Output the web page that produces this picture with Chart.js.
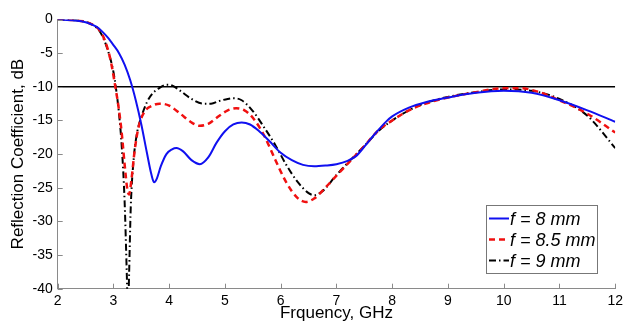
<!DOCTYPE html>
<html>
<head>
<meta charset="utf-8">
<script src="https://cdn.jsdelivr.net/npm/chart.js@4.4.1/dist/chart.umd.min.js"></script>
<style>
  html, body { margin: 0; padding: 0; background: #fff; }
  #wrap { width: 627px; height: 324px; }
</style>
</head>
<body>
<div id="wrap"><canvas id="chart" width="627" height="324"></canvas></div>
<script>
//===========================================================================================
// ~~ DATA ~~

var labels8 = ["f = 8 mm", "f = 8.5 mm", "f = 9 mm"];

var freq8 = [2.0, 2.3, 2.5, 2.6, 2.7, 2.8, 2.9, 3.0, 3.1, 3.2, 3.3, 3.4, 3.5, 3.6, 3.68, 3.73, 3.78, 3.85, 3.95, 4.05, 4.13, 4.25, 4.4, 4.55, 4.7, 4.85, 5.0, 5.15, 5.3, 5.45, 5.6, 5.8, 6.0, 6.2, 6.4, 6.6, 6.8, 7.0, 7.2, 7.35, 7.5, 7.7, 7.9, 8.0, 8.3, 8.6, 9.0, 9.5, 10.0, 10.5, 11.0, 11.5, 12.0];
var s11_8 = [0, -0.15, -0.4, -0.7, -1.1, -1.8, -2.7, -3.8, -5.0, -6.7, -9.0, -12.0, -15.6, -19.8, -23.0, -24.2, -23.6, -21.8, -20.0, -19.3, -19.1, -19.6, -20.9, -21.5, -20.5, -18.3, -16.6, -15.6, -15.3, -15.6, -16.5, -18.1, -19.8, -20.9, -21.6, -21.8, -21.7, -21.5, -21.0, -20.3, -18.9, -16.9, -15.1, -14.4, -13.1, -12.3, -11.6, -10.9, -10.6, -10.9, -12.0, -13.5, -15.2];

var freq85 = [2.0, 2.3, 2.5, 2.65, 2.75, 2.85, 2.95, 3.03, 3.1, 3.15, 3.2, 3.25, 3.28, 3.32, 3.38, 3.45, 3.55, 3.7, 3.83, 4.0, 4.2, 4.4, 4.55, 4.7, 4.9, 5.05, 5.2, 5.35, 5.5, 5.7, 5.9, 6.1, 6.3, 6.45, 6.6, 6.8, 7.0, 7.25, 7.5, 7.75, 8.0, 8.3, 8.6, 9.0, 9.5, 10.0, 10.3, 10.6, 11.0, 11.5, 12.0];
var s11_85 = [0, -0.1, -0.35, -0.9, -1.6, -3.2, -6.1, -9.8, -13.5, -17.0, -21.5, -25.3, -26.0, -24.0, -19.5, -16.0, -13.8, -12.8, -12.5, -12.8, -14.0, -15.3, -15.8, -15.5, -14.3, -13.5, -13.2, -13.5, -14.6, -17.2, -20.8, -24.2, -26.5, -27.1, -26.6, -25.0, -23.2, -21.0, -18.8, -16.5, -15.0, -13.5, -12.5, -11.6, -10.8, -10.2, -10.2, -10.7, -12.0, -14.0, -16.8];

var freq9 = [2.0, 2.3, 2.5, 2.65, 2.75, 2.85, 2.95, 3.0, 3.04, 3.1, 3.15, 3.2, 3.24, 3.26, 3.28, 3.31, 3.36, 3.42, 3.5, 3.6, 3.7, 3.8, 3.95, 4.05, 4.2, 4.4, 4.6, 4.75, 4.9, 5.05, 5.15, 5.3, 5.5, 5.7, 5.9, 6.1, 6.3, 6.5, 6.6, 6.75, 7.0, 7.25, 7.5, 7.75, 8.0, 8.3, 8.6, 9.0, 9.5, 10.0, 10.5, 11.0, 11.5, 12.0];
var s11_9 = [0, -0.1, -0.35, -0.9, -1.7, -3.4, -6.0, -7.8, -9.9, -14.0, -19.0, -27.0, -38.0, -44.0, -38.0, -28.0, -21.0, -17.0, -14.5, -12.3, -11.0, -10.3, -9.7, -9.8, -10.6, -11.8, -12.5, -12.5, -12.1, -11.8, -11.7, -12.0, -13.6, -16.0, -18.6, -21.6, -24.1, -25.8, -26.1, -25.5, -23.1, -20.9, -18.8, -16.6, -15.0, -13.5, -12.4, -11.5, -10.8, -10.4, -10.6, -11.8, -14.3, -19.1];

var refFreq = [2, 12];
var refLevel = [-10, -10];

var xTicks = [2, 3, 4, 5, 6, 7, 8, 9, 10, 11, 12];
var yTicks = [0, -5, -10, -15, -20, -25, -30, -35, -40];

//===========================================================================================
// ~~ HELPERS ~~

function toPoints(xs, ys) {
  var pts = [];
  for (var i = 0; i < xs.length; i++) {
    pts.push({ x: xs[i], y: ys[i] });
  }
  return pts;
}

var FONT = "'Liberation Sans', Arial, sans-serif";
var AXIS_GREY = "#8a8a8a";

// inward tick marks + legend box in the lower right
var decorPlugin = {
  id: "decor",
  afterDatasetsDraw: function(chart) {
    var ctx = chart.ctx;
    var xs = chart.scales.x, ys = chart.scales.y;
    var area = chart.chartArea;
    ctx.save();
    ctx.strokeStyle = AXIS_GREY;
    ctx.lineWidth = 1;
    ctx.beginPath();
    xTicks.forEach(function(v) {
      var px = Math.round(xs.getPixelForValue(v)) + 0.5;
      ctx.moveTo(px, area.bottom);
      ctx.lineTo(px, area.bottom - 5);
    });
    yTicks.forEach(function(v) {
      var py = Math.round(ys.getPixelForValue(v)) + 0.5;
      ctx.moveTo(area.left, py);
      ctx.lineTo(area.left + 5, py);
    });
    ctx.stroke();

    // legend
    var bx = 486, by = 205, bw = 111, bh = 68;
    ctx.fillStyle = "#fff";
    ctx.fillRect(bx, by, bw, bh);
    ctx.strokeStyle = "#777";
    ctx.strokeRect(bx + 0.5, by + 0.5, bw, bh);
    var rows = [218.5, 239.5, 260.5];
    for (var i = 0; i < 3; i++) {
      var ds = chart.data.datasets[i];
      ctx.strokeStyle = ds.borderColor;
      ctx.lineWidth = ds.borderWidth;
      ctx.setLineDash(ds.borderDash || []);
      ctx.beginPath();
      ctx.moveTo(489, rows[i]);
      ctx.lineTo(509, rows[i]);
      ctx.stroke();
      ctx.setLineDash([]);
      ctx.fillStyle = "#000";
      ctx.font = "italic 18px " + FONT;
      ctx.textBaseline = "middle";
      ctx.textAlign = "left";
      ctx.fillText(labels8[i], 510, rows[i] + 1);
    }
    ctx.restore();
  }
};

//===========================================================================================
// ~~ CHART ~~

new Chart(document.getElementById("chart"), {
  type: "line",
  data: {
    datasets: [
      {
        label: labels8[0],
        data: toPoints(freq8, s11_8),
        borderColor: "#1010f0",
        borderWidth: 2,
        pointRadius: 0,
        cubicInterpolationMode: "monotone"
      },
      {
        label: labels8[1],
        data: toPoints(freq85, s11_85),
        borderColor: "#f01010",
        borderWidth: 2.5,
        borderDash: [6, 4],
        pointRadius: 0,
        cubicInterpolationMode: "monotone"
      },
      {
        label: labels8[2],
        data: toPoints(freq9, s11_9),
        borderColor: "#000",
        borderWidth: 2,
        borderDash: [7, 3, 1.5, 3],
        pointRadius: 0,
        cubicInterpolationMode: "monotone"
      },
      {
        label: "ref",
        data: toPoints(refFreq, refLevel),
        borderColor: "#000",
        borderWidth: 1.5,
        pointRadius: 0
      }
    ]
  },
  options: {
    responsive: false,
    animation: false,
    layout: { padding: { top: 19.5, right: 11.7, left: 0, bottom: 0 } },
    plugins: {
      legend: { display: false },
      tooltip: { enabled: false }
    },
    scales: {
      x: {
        type: "linear",
        min: 2,
        max: 12,
        afterFit: function(s) { s.height = 35.3; },
        afterBuildTicks: function(s) { s.ticks = xTicks.map(function(v) { return { value: v }; }); },
        grid: { display: false, drawTicks: false },
        border: { display: true, color: AXIS_GREY, width: 1 },
        ticks: { color: "#000", font: { family: FONT, size: 14 }, padding: 4, maxRotation: 0 },
        title: { display: true, text: "Frquency, GHz", color: "#000", font: { family: FONT, size: 17 }, padding: { top: 0, bottom: 0 } }
      },
      y: {
        min: -40,
        max: 0,
        afterFit: function(s) { s.width = 57.7; },
        afterBuildTicks: function(s) { s.ticks = yTicks.map(function(v) { return { value: v }; }); },
        grid: { display: false, drawTicks: false },
        border: { display: true, color: AXIS_GREY, width: 1 },
        ticks: { color: "#000", font: { family: FONT, size: 14 }, padding: 5 },
        title: { display: true, text: "Reflection Coefficient, dB", color: "#000", font: { family: FONT, size: 17 }, padding: { top: 8, bottom: 0 } }
      }
    }
  },
  plugins: [decorPlugin]
});
</script>
</body>
</html>
